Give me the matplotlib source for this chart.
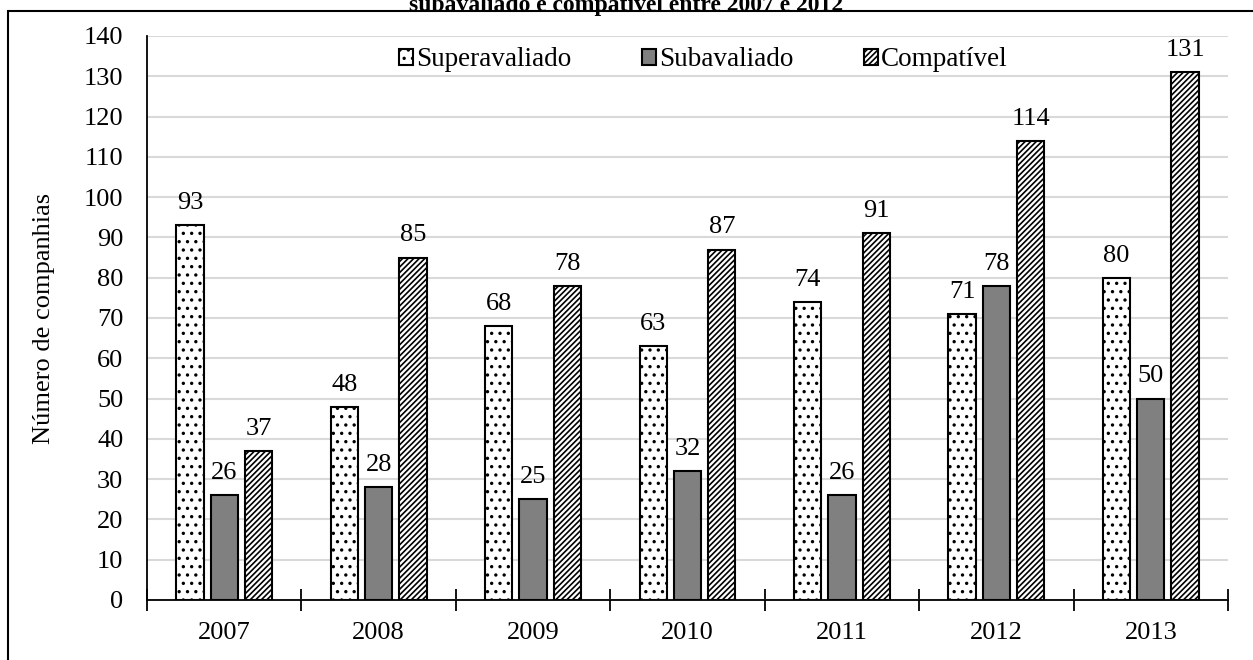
import matplotlib
matplotlib.use("Agg")
import matplotlib.pyplot as plt
import matplotlib.patches as mpatches
import numpy as np

plt.rcParams['font.family'] = ['Liberation Serif', 'DejaVu Serif']
plt.rcParams['font.size'] = 19
plt.rcParams['hatch.linewidth'] = 1.2

anos = ['2007', '2008', '2009', '2010', '2011', '2012', '2013']
superavaliado = [93, 48, 68, 63, 74, 71, 80]
subavaliado = [26, 28, 25, 32, 26, 78, 50]
compativel = [37, 85, 78, 87, 91, 114, 131]

W, H = 1253, 660
fig = plt.figure(figsize=(W / 100, H / 100), dpi=100)
ax = fig.add_axes([147 / W, 1 - 600 / H, (1228 - 147) / W, (600 - 36) / H])

# moldura em volta do gráfico
fig.patches.append(mpatches.Rectangle((8 / W, -0.2), 1.2, 1.2 - 11 / H,
                                      transform=fig.transFigure, fill=False,
                                      edgecolor='black', linewidth=1.5))
fig.text(0.5, 1 - 11 / H, 'subavaliado e compatível entre 2007 e 2012',
         ha='center', va='baseline', fontweight='bold', fontsize=17)

x = np.arange(len(anos))
w = 0.177
d = 0.222
series = [
    (superavaliado, 'Superavaliado', dict(facecolor='white', hatch='..')),
    (subavaliado, 'Subavaliado', dict(facecolor='#808080')),
    (compativel, 'Compatível', dict(facecolor='white', hatch='//////')),
]
for i, (vals, nome, estilo) in enumerate(series):
    barras = ax.bar(x + (i - 1) * d, vals, w, label=nome, edgecolor='black',
                    linewidth=1.5, zorder=3, **estilo)
    ax.bar_label(barras, padding=8, fontsize=19)

ax.set_xlim(-0.5, len(anos) - 0.5)
ax.set_ylim(0, 140)
ax.set_yticks(range(0, 141, 10))
ax.set_xticks(x)
ax.set_xticklabels(anos)
ax.set_xticks(np.arange(-0.5, len(anos), 1), minor=True)
ax.tick_params(axis='x', which='major', length=0, pad=16)
ax.tick_params(axis='x', which='minor', direction='inout', length=16, width=1.3)
ax.tick_params(axis='y', length=0, pad=17)
ax.grid(axis='y', color='#d9d9d9', linewidth=1.5, zorder=0)
ax.set_axisbelow(True)
for lado in ['top', 'right']:
    ax.spines[lado].set_visible(False)
ax.spines['left'].set_linewidth(1.3)
ax.spines['bottom'].set_linewidth(1.3)
ax.set_ylabel('Número de companhias', labelpad=21)

fig.legend(*ax.get_legend_handles_labels(), loc='center left',
           bbox_to_anchor=(374.5 / W, 1 - 60 / H), ncol=3, frameon=False,
           handlelength=0.52, handleheight=0.52, handletextpad=0.12,
           columnspacing=2.6, fontsize=19.5)

fig.savefig('out.png', dpi=100)
